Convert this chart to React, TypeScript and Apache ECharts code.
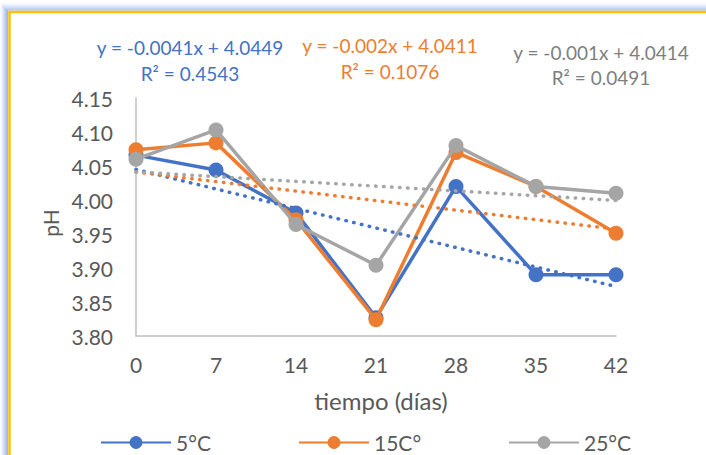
import React, { useEffect, useRef } from "react";
import * as echarts from "echarts";

const days = [0, 7, 14, 21, 28, 35, 42];
const ph5 = [4.066, 4.044, 3.981, 3.827, 4.02, 3.89, 3.89];
const ph15 = [4.074, 4.084, 3.971, 3.824, 4.07, 4.02, 3.951];
const ph25 = [4.06, 4.103, 3.964, 3.904, 4.08, 4.02, 4.01];
const seriesNames = ["5°C", "15C°", "25°C"];
const colors = ["#4472C4", "#ED7D31", "#A5A5A5"];
const eqColors = ["#4472C4", "#ED7D31", "#7F7F7F"];
const slopes = [-0.0041, -0.002, -0.001];
const intercepts = [4.0449, 4.0411, 4.0414];
const slopeText = ["-0.0041", "-0.002", "-0.001"];
const interceptText = ["4.0449", "4.0411", "4.0414"];
const r2Text = ["0.4543", "0.1076", "0.0491"];
const yTicks = [3.8, 3.85, 3.9, 3.95, 4.0, 4.05, 4.1, 4.15];

const FONT = "Lato, 'Noto Sans', sans-serif";

export default function App() {
  const ref = useRef<HTMLDivElement>(null);
  useEffect(() => {
    if (!ref.current) return;
    const chart = echarts.init(ref.current, undefined, { renderer: "svg" });
    const allData = [ph5, ph15, ph25];
    const dataSeries = allData.map((vals, i) => ({
      name: seriesNames[i],
      type: "line",
      data: days.map((d, k) => [d, vals[k]]),
      symbol: "circle",
      symbolSize: 15,
      itemStyle: { color: colors[i] },
      lineStyle: { color: colors[i], width: 3.5 },
      z: 2 + i * 0.1,
      emphasis: { disabled: true },
    }));
    const x0 = days[0];
    const x1 = days[days.length - 1];
    const trendSeries = slopes.map((m, i) => ({
      name: "trend" + i,
      type: "line",
      data: [
        [x0, intercepts[i] + m * x0],
        [x1, intercepts[i] + m * x1],
      ],
      symbol: "none",
      lineStyle: { color: colors[i], width: 3.5, type: [0.5, 7.5], cap: "round" },
      z: 4,
      silent: true,
      emphasis: { disabled: true },
    }));

    const eqPos = [
      { x: 190, y1: 47, y2: 73 },
      { x: 390, y1: 45, y2: 71 },
      { x: 601, y1: 52, y2: 77 },
    ];
    const eqTexts: any[] = [];
    eqPos.forEach((p, i) => {
      eqTexts.push({
        type: "text",
        x: p.x,
        y: p.y1,
        style: {
          text: "y = " + slopeText[i] + "x + " + interceptText[i],
          fill: eqColors[i],
          font: "19px " + FONT,
          align: "center",
          verticalAlign: "middle",
        },
      });
      eqTexts.push({
        type: "text",
        x: p.x,
        y: p.y2,
        style: {
          text: "R² = " + r2Text[i],
          fill: eqColors[i],
          font: "19px " + FONT,
          align: "center",
          verticalAlign: "middle",
        },
      });
    });

    const glowColors = ["#9DB6EE", "#A9BFF0", "#B7C9F2", "#C6D5F5", "#D5E0F8", "#E3EAFA", "#F0F4FC"];
    const glow = glowColors.map((c, k) => ({
      type: "rect",
      shape: { x: 9.5 - 2 - k, y: 12 - 2 - k, width: 900, height: 700 },
      style: { fill: "none", stroke: c, lineWidth: 1.2 },
      silent: true,
      z: -10,
    }));

    const legendLeft = [100, 298, 508];
    const legends = seriesNames.map((n, i) => ({
      data: [n],
      left: legendLeft[i],
      top: 432,
      padding: 0,
      itemWidth: 70,
      itemHeight: 16,
      textStyle: { color: "#595959", fontSize: 21, fontFamily: FONT },
      selectedMode: false,
    }));

    chart.setOption({
      animation: false,
      backgroundColor: "#FFFFFF",
      grid: { left: 136, top: 98, right: 90, bottom: 119, containLabel: false },
      legend: legends,
      xAxis: {
        type: "value",
        min: 0,
        max: 42,
        interval: 7,
        axisLine: { show: true, lineStyle: { color: "#BFBFBF", width: 1.5 } },
        axisTick: { show: false },
        splitLine: { show: false },
        axisLabel: { color: "#595959", fontSize: 21, fontFamily: FONT, margin: 18 },
      },
      yAxis: {
        type: "value",
        min: yTicks[0],
        max: yTicks[yTicks.length - 1],
        interval: 0.05,
        axisLine: { show: true, lineStyle: { color: "#BFBFBF", width: 1.5 } },
        axisTick: { show: false },
        splitLine: { show: false },
        axisLabel: {
          color: "#595959",
          fontSize: 21,
          fontFamily: FONT,
          margin: 23,
          formatter: (v: number) => v.toFixed(2),
        },
      },
      graphic: [
        ...glow,
        {
          type: "rect",
          shape: { x: 9.5, y: 12, width: 900, height: 700 },
          style: { fill: "none", stroke: "#FFC000", lineWidth: 2.5 },
          silent: true,
          z: -9,
        },
        ...eqTexts,
        {
          type: "text",
          x: 381,
          y: 400,
          style: {
            text: "tiempo (días)",
            fill: "#595959",
            font: "24px " + FONT,
            align: "center",
            verticalAlign: "middle",
          },
        },
        {
          type: "text",
          x: 50,
          y: 223,
          rotation: Math.PI / 2,
          style: {
            text: "pH",
            fill: "#595959",
            font: "21px " + FONT,
            align: "center",
            verticalAlign: "middle",
          },
        },
      ],
      series: [...dataSeries, ...trendSeries],
    });
    return () => chart.dispose();
  }, []);
  return (
    <div
      ref={ref}
      style={{ position: "absolute", left: 0, top: 0, width: 706, height: 455 }}
    />
  );
}
